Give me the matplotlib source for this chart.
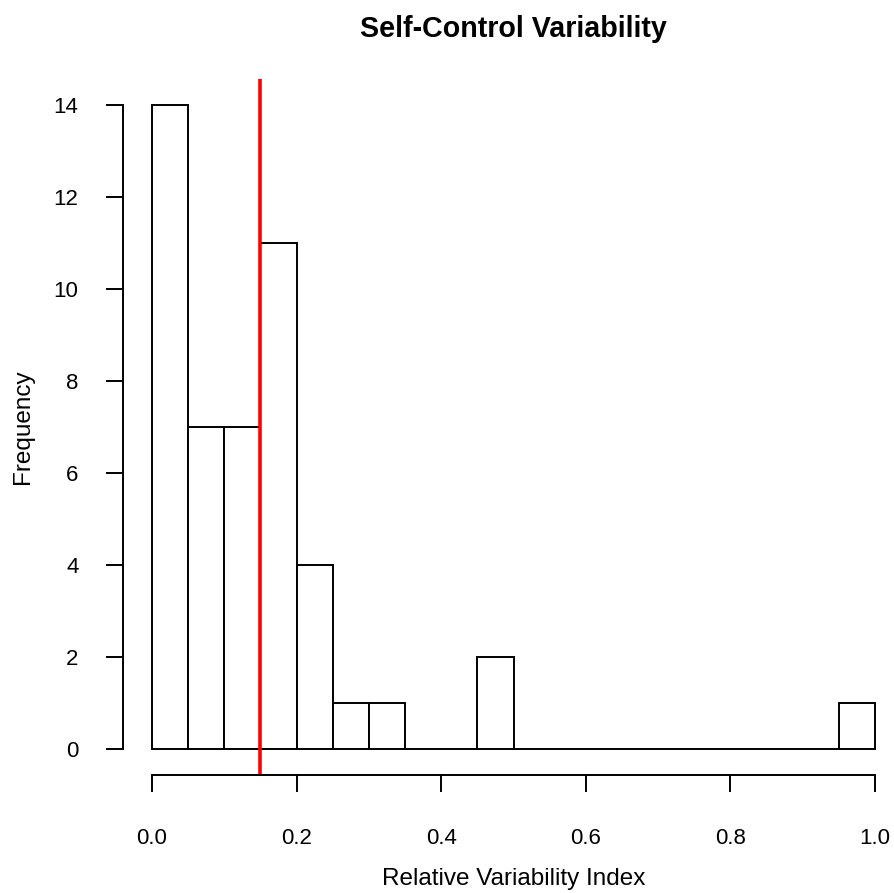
import numpy as np
import matplotlib.pyplot as plt

# histogram counts (bins of width 0.05 from 0 to 1)
bin_edges = np.round(np.arange(0, 1.0001, 0.05), 2)
counts = [14, 7, 7, 11, 4, 1, 1, 0, 0, 2, 0, 0, 0, 0, 0, 0, 0, 0, 0, 1]
mean_line = 0.149

x_ticks = [0.0, 0.2, 0.4, 0.6, 0.8, 1.0]
y_ticks = [0, 2, 4, 6, 8, 10, 12, 14]

plt.rcParams['font.family'] = ['Liberation Sans', 'DejaVu Sans']

fig = plt.figure(figsize=(8.94, 8.93), dpi=100)
W, H = 894, 893
# plot region in pixels: x 123..904, y 79..775
ax = fig.add_axes([123 / W, (H - 775) / H, 781 / W, (775 - 79) / H])

ax.bar(bin_edges[:-1], counts, width=0.05, align='edge',
       facecolor='white', edgecolor='black', linewidth=1.4)
ax.axvline(mean_line, color='red', linewidth=2.6)

ax.set_xlim(-0.04, 1.04)
ax.set_ylim(-0.56, 14.56)

for s in ['top', 'right']:
    ax.spines[s].set_visible(False)
ax.spines['left'].set_bounds(0, 14)
ax.spines['bottom'].set_bounds(0, 1.0)
for s in ['left', 'bottom']:
    ax.spines[s].set_linewidth(1.4)

ax.set_xticks(x_ticks)
ax.set_xticklabels(['0.0', '0.2', '0.4', '0.6', '0.8', '1.0'])
ax.set_yticks(y_ticks)
ax.tick_params(axis='both', length=12, width=1.4, labelsize=16, color='black')
ax.tick_params(axis='x', pad=26)
ax.tick_params(axis='y', pad=20)

ax.set_xlabel('Relative Variability Index', fontsize=17.5, labelpad=14)
ax.set_ylabel('Frequency', fontsize=17.5, labelpad=14)
ax.set_title('Self-Control Variability', fontsize=20.6, fontweight='bold', pad=30)

fig.savefig('out.png', dpi=100)
